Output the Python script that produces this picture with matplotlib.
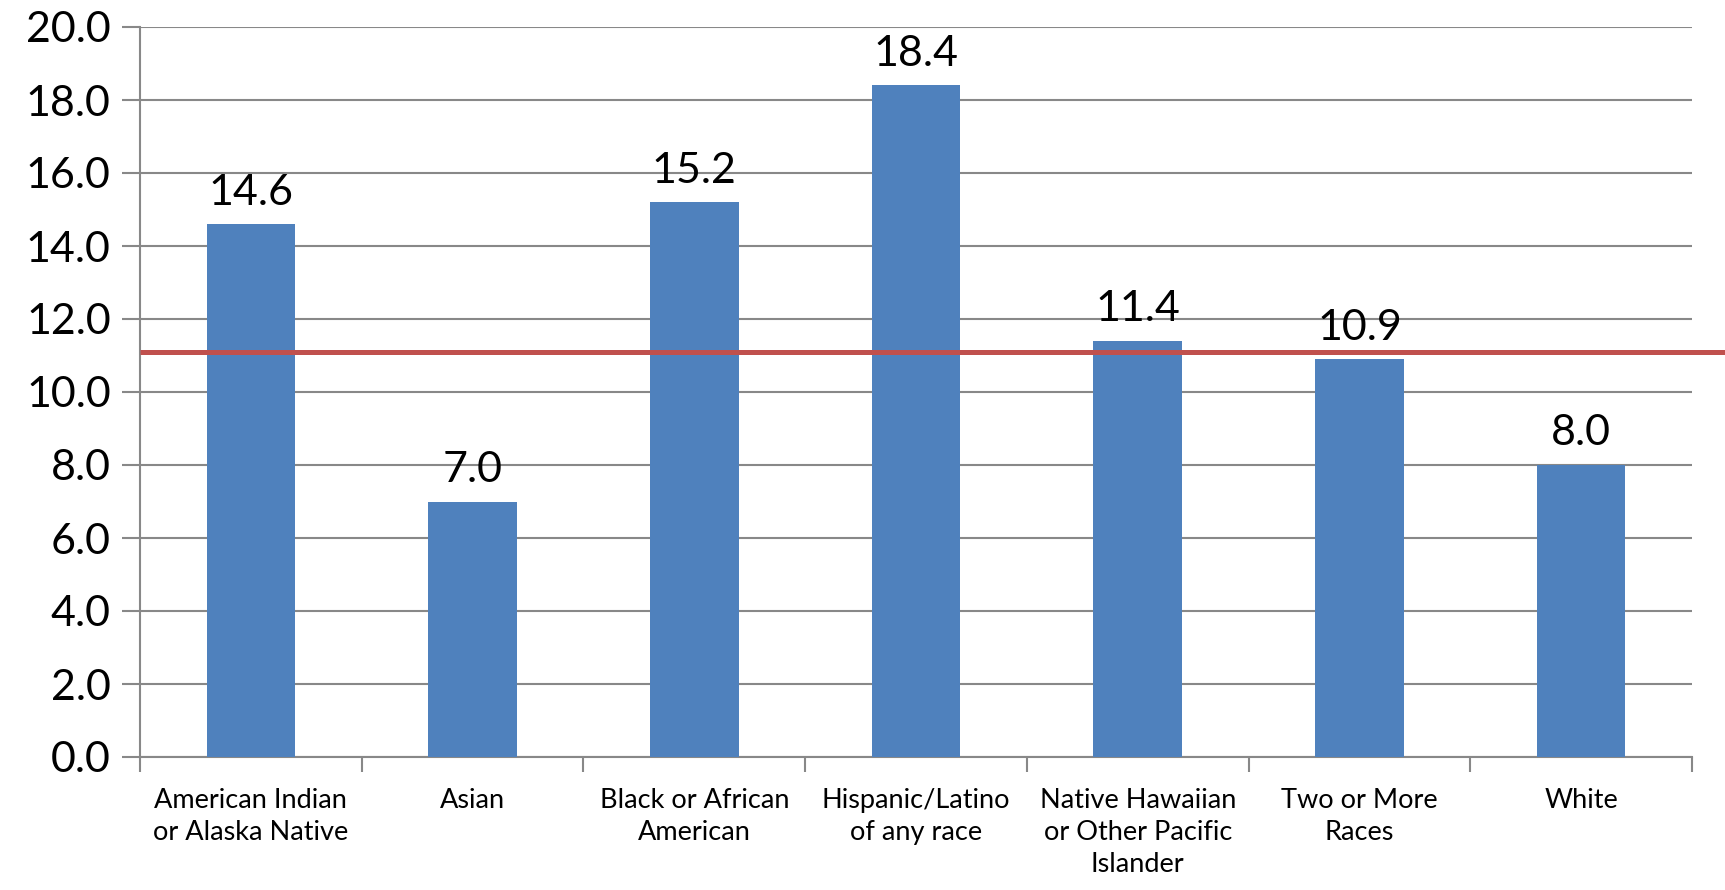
import matplotlib
matplotlib.use("Agg")
import matplotlib.pyplot as plt
import numpy as np

categories = ["American Indian\nor Alaska Native", "Asian", "Black or African\nAmerican",
              "Hispanic/Latino\nof any race", "Native Hawaiian\nor Other Pacific\nIslander",
              "Two or More\nRaces", "White"]
values = [14.6, 7.0, 15.2, 18.4, 11.4, 10.9, 8.0]
average = 11.1
yticks = [0, 2, 4, 6, 8, 10, 12, 14, 16, 18, 20]

fam = ["Lato", "DejaVu Sans"]
plt.rcParams['font.family'] = fam

fig = plt.figure(figsize=(17.25, 8.9), dpi=100)
ax = fig.add_axes([140/1725, 1-757/890, (1692-140)/1725, (757-27)/890])

x = np.arange(len(categories))
ax.bar(x, values, width=0.4, color="#4F81BD", zorder=3)
for xi, v in zip(x, values):
    ax.annotate(f"{v:.1f}", (xi, v), xytext=(0, 9), textcoords="offset points",
                ha="center", va="bottom", fontsize=31, zorder=5)

ax.set_xlim(-0.5, len(categories)-0.5)
ax.set_ylim(0, 20)
ax.set_yticks(yticks)
ax.set_yticklabels([f"{t:.1f}" for t in yticks], fontsize=31)
ax.yaxis.grid(True, color="#888888", linewidth=1.5, zorder=0)
ax.tick_params(axis="y", length=13, width=1.5, color="#888888", pad=8)

ax.set_xticks(x)
ax.set_xticklabels(categories, fontsize=19.5, linespacing=1.35, va="top")
ax.set_xticks(np.arange(-0.5, len(categories)), minor=True)
ax.tick_params(axis="x", which="major", length=0, pad=22)
ax.tick_params(axis="x", which="minor", length=11, width=1.5, color="#888888")

for s in ["top", "right"]:
    ax.spines[s].set_visible(False)
for s in ["left", "bottom"]:
    ax.spines[s].set_color("#888888")
    ax.spines[s].set_linewidth(1.5)

# average line extends past the plot area
ax.plot([-0.5, 6.65], [average, average], color="#C0504D", linewidth=3.6,
        zorder=4, clip_on=False, solid_capstyle="butt")

fig.savefig("out.png", dpi=100)
